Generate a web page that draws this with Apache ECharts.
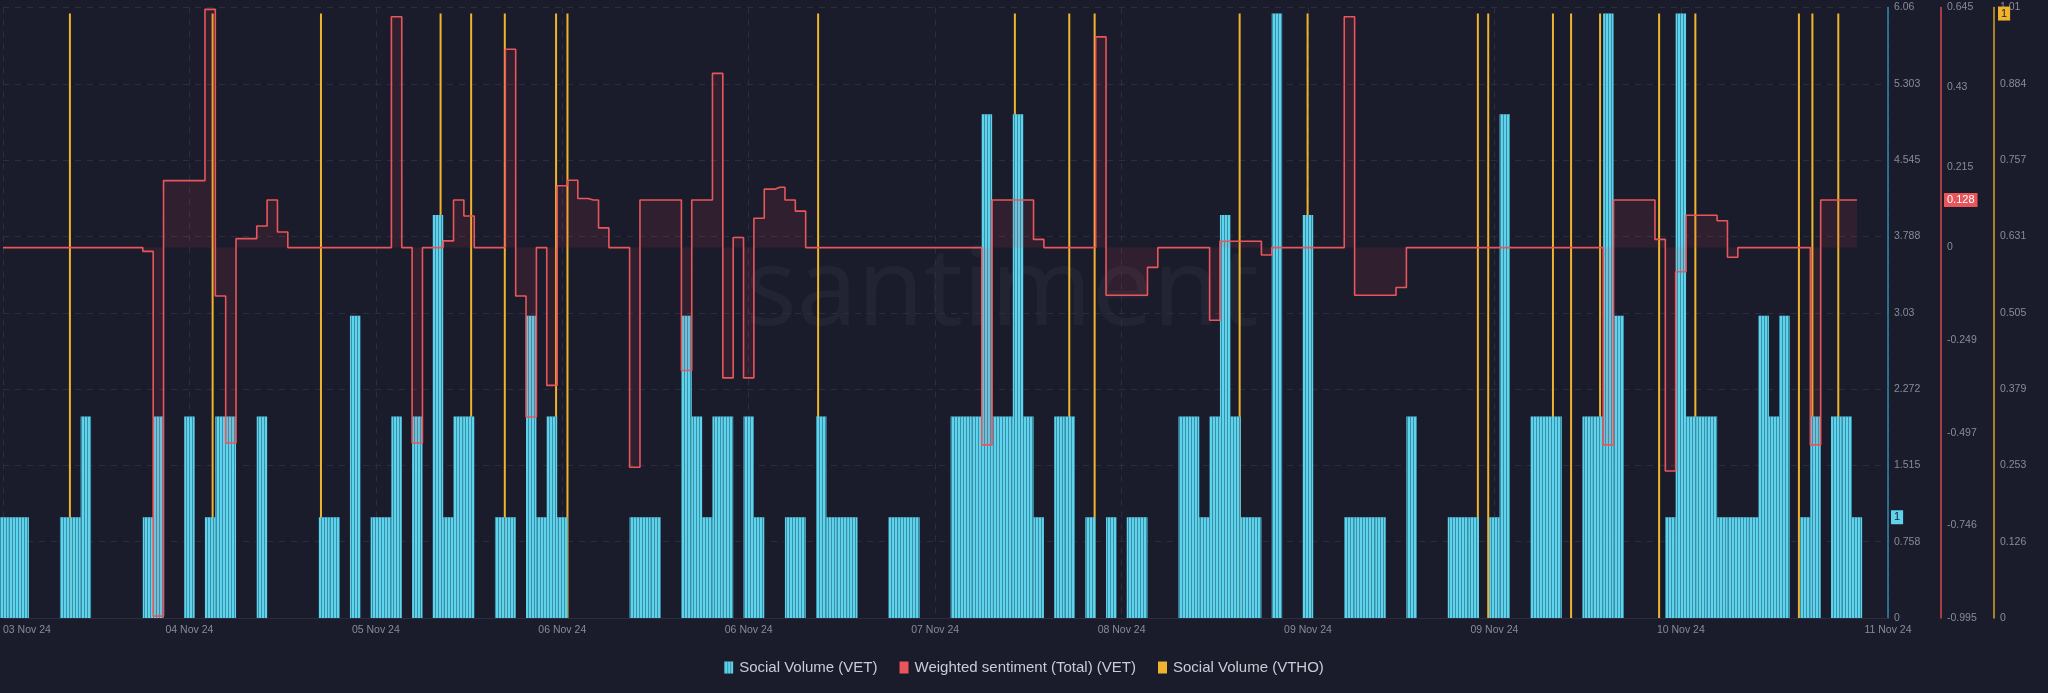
<!DOCTYPE html>
<html><head><meta charset="utf-8">
<script src="https://cdn.jsdelivr.net/npm/echarts@6/dist/echarts.min.js"></script>
<style>html,body{margin:0;padding:0;background:#1a1c2b;}#chart{width:2048px;height:693px;}</style>
</head><body><div id="chart"></div>
<script>
// x values: hours since 03 Nov 24 18:00 (hourly samples 0..179)
const vetVolume = [
1,1,1,0,0,0,1,1,2,0,
0,0,0,0,1,2,0,0,2,0,
1,2,2,0,0,2,0,0,0,0,
0,1,1,0,3,0,1,1,2,0,
2,0,4,1,2,2,0,0,1,1,
0,3,1,2,1,0,0,0,0,0,
0,1,1,1,0,0,3,2,1,2,
2,0,2,1,0,0,1,1,0,2,
1,1,1,0,0,0,1,1,1,0,
0,0,2,2,2,5,2,2,5,2,
1,0,2,2,0,1,0,1,0,1,
1,0,0,0,2,2,1,2,4,2,
1,1,0,6,0,0,4,0,0,0,
1,1,1,1,0,0,2,0,0,0,
1,1,1,0,1,5,0,0,2,2,
2,0,0,2,2,6,3,0,0,0,
0,1,6,2,2,2,1,1,1,1,
3,2,3,0,1,2,0,2,2,1];
const sentiment = [
0,0,0,0,0,0,0,0,0,0,
0,0,0,0,-0.01,-0.99,0.18,0.18,0.18,0.18,
0.64,-0.13,-0.525,0.024,0.024,0.058,0.128,0.042,0,0,
0,0,0,0,0,0,0,0,0.62,0,
-0.525,0,0,0.018,0.128,0.085,0,0,0,0.533,
-0.13,-0.455,0,-0.37,0.166,0.181,0.132,0.128,0.053,0,
0,-0.59,0.128,0.128,0.128,0.128,-0.33,0.128,0.128,0.468,
-0.35,0.027,-0.35,0.079,0.157,0.162,0.128,0.098,0,0,
0,0,0,0,0,0,0,0,0,0,
0,0,0,0,0,-0.53,0.128,0.128,0.128,0.128,
0.022,0,0,0,0,0,0.566,-0.128,-0.128,-0.128,
-0.128,-0.053,0,0,0,0,0,-0.195,0.017,0.017,
0.017,0.017,-0.02,0,0,0,0,0,0,0,
0.62,-0.128,-0.128,-0.128,-0.128,-0.107,0,0,0,0,
0,0,0,0,0,0,0,0,0,0,
0,0,0,0,0,-0.53,0.128,0.128,0.128,0.128,
0.022,-0.6,-0.065,0.087,0.087,0.087,0.072,-0.026,0,0,
0,0,0,0,0,-0.53,0.128,0.128,0.128,0.128];
const vthoHours = [6.46,20.24,30.7,42.25,45.2,48.45,53.4,54.5,78.7,97.7,102.95,105.4,119.4,125.96,142.4,143.4,149.65,151.4,154.2,159.9,163.4,173.4,174.7,177.2];
const vthoVolume = [1,1,1,1,1,1,1,1,1,1,1,1,1,1,1,1,1,1,1,1,1,1,1,1];

const xTickHours = [0,18,36,54,72,90,108,126,144,162,182];
const xTickLabels = ['03 Nov 24','04 Nov 24','05 Nov 24','06 Nov 24','06 Nov 24','07 Nov 24','08 Nov 24','09 Nov 24','09 Nov 24','10 Nov 24','11 Nov 24'];
const vetTickLabels = ['0','0.758','1.515','2.272','3.03','3.788','4.545','5.303','6.06'];
const sentTicks = [-0.995,-0.746,-0.497,-0.249,0,0.215,0.43,0.645];
const vthoTickLabels = ['0','0.126','0.253','0.379','0.505','0.631','0.757','0.884','1.01'];

const FONT = "'Liberation Sans', Arial, sans-serif";
const LABEL_COLOR = '#868b9e';
const GRID_LINE = '#2a2e40';
const C_VET = '#5fd3ec', C_SENT = '#e8565b', C_VTHO = '#f0b32e';
const BG = '#1a1c2b';
const W = 2048, GRID_RIGHT = 160, AX_OFF2 = 53, AX_OFF3 = 106;

const vetPairs = vetVolume.map((v, i) => [i, v]);
const sentPairs = sentiment.map((v, i) => [i, v]);
const vthoPairs = vthoHours.map((h, i) => [h, vthoVolume[i]]);

const chart = echarts.init(document.getElementById('chart'), null, {renderer: 'canvas'});
const xBase = {
  type: 'value', min: 0, max: 182,
  axisLine: {show: true, onZero: false, lineStyle: {color: '#2a2e3e'}},
  axisTick: {show: false, customValues: xTickHours},
  splitLine: {show: true, lineStyle: {color: GRID_LINE, type: [6, 6]}},
  axisLabel: {
    customValues: xTickHours,
    formatter: v => xTickLabels[xTickHours.indexOf(v)],
    color: LABEL_COLOR, fontSize: 10.5, fontFamily: FONT, margin: 7,
    alignMinLabel: 'left'
  }
};
const watermark = {
  id: 'wm', type: 'text', left: 745, top: 240, z: -10, silent: true,
  style: {text: 'santiment', fontSize: 108, fontFamily: "'Noto Sans', sans-serif",
    fill: 'rgba(255,255,255,0.04)'}
};
const option = {
  backgroundColor: BG,
  animation: false,
  textStyle: {fontFamily: FONT},
  grid: {left: 0, right: GRID_RIGHT, top: 7.5, bottom: 75, containLabel: false},
  graphic: [watermark],
  legend: {
    bottom: 13, left: 'center', icon: 'rect', itemWidth: 9, itemHeight: 12, itemGap: 22,
    textStyle: {color: '#c9ccd6', fontSize: 15, fontFamily: FONT, padding: [0, 0, 0, 1]},
    data: ['Social Volume (VET)', 'Weighted sentiment (Total) (VET)', 'Social Volume (VTHO)']
  },
  xAxis: [xBase, Object.assign({}, xBase, {show: false, splitLine: {show: false}})],
  yAxis: [
    {type: 'value', position: 'right', min: 0, max: 6.06, interval: 0.7575,
     axisLine: {show: true, onZero: false, lineStyle: {color: '#2d8cae', width: 1.5}},
     axisTick: {show: false},
     splitLine: {show: true, lineStyle: {color: GRID_LINE, type: [6, 6]}},
     axisLabel: {color: LABEL_COLOR, fontSize: 10.5, fontFamily: FONT, margin: 6,
       formatter: v => vetTickLabels[Math.round(v / 0.7575)]}},
    {type: 'value', position: 'right', offset: AX_OFF2, min: -0.995, max: 0.645,
     axisLine: {show: true, onZero: false, lineStyle: {color: '#d9484e', width: 1.5}},
     axisTick: {show: false, customValues: sentTicks},
     splitLine: {show: false},
     axisLabel: {customValues: sentTicks, color: LABEL_COLOR, fontSize: 10.5, fontFamily: FONT, margin: 6,
       formatter: v => String(v)}},
    {type: 'value', position: 'right', offset: AX_OFF3, min: 0, max: 1.01, interval: 0.12625,
     axisLine: {show: true, onZero: false, lineStyle: {color: '#d8a327', width: 1.5}},
     axisTick: {show: false},
     splitLine: {show: false},
     axisLabel: {color: LABEL_COLOR, fontSize: 10.5, fontFamily: FONT, margin: 6,
       formatter: v => vthoTickLabels[Math.round(v / 0.12625)]}}
  ],
  series: [
    {name: 'Social Volume (VTHO)', type: 'bar', xAxisIndex: 1, yAxisIndex: 2,
     data: vthoPairs, barWidth: 2, z: 1,
     itemStyle: {color: C_VTHO}},
    {name: 'Social Volume (VET)', type: 'bar', xAxisIndex: 0, yAxisIndex: 0,
     data: vetPairs, barWidth: 10.4, z: 2,
     itemStyle: {color: C_VET,
       decal: {symbol: 'rect', symbolSize: 1, color: 'rgba(30,90,115,0.55)', dashArrayX: [1, 2], dashArrayY: [4, 0]}}},
    {name: 'Weighted sentiment (Total) (VET)', type: 'line', xAxisIndex: 0, yAxisIndex: 1,
     data: sentPairs, step: 'middle', showSymbol: false, z: 3,
     lineStyle: {color: C_SENT, width: 1.6},
     itemStyle: {color: C_SENT},
     areaStyle: {color: 'rgba(220,70,85,0.17)'}}
  ]
};
chart.setOption(option);

// last-value badges on the axes, placed through the library's own scales
const gridRightX = W - GRID_RIGHT;
function badge(id, axisIdx, value, x, bg, fg) {
  const y = chart.convertToPixel({yAxisIndex: axisIdx}, value);
  return {
    id: id, type: 'text', x: x, y: y, z: 20, silent: true,
    style: {text: String(value), fill: fg, backgroundColor: bg, padding: [2, 3, 1, 3],
      fontSize: 11, fontFamily: FONT, align: 'left', verticalAlign: 'middle'}
  };
}
chart.setOption({graphic: [
  watermark,
  badge('bVet', 0, vetVolume[vetVolume.length - 1], gridRightX + 3, C_VET, BG),
  badge('bSent', 1, sentiment[sentiment.length - 1], gridRightX + AX_OFF2 + 3, C_SENT, '#ffffff'),
  badge('bVtho', 2, vthoVolume[vthoVolume.length - 1], gridRightX + AX_OFF3 + 4, C_VTHO, BG)
]});
</script></body></html>
